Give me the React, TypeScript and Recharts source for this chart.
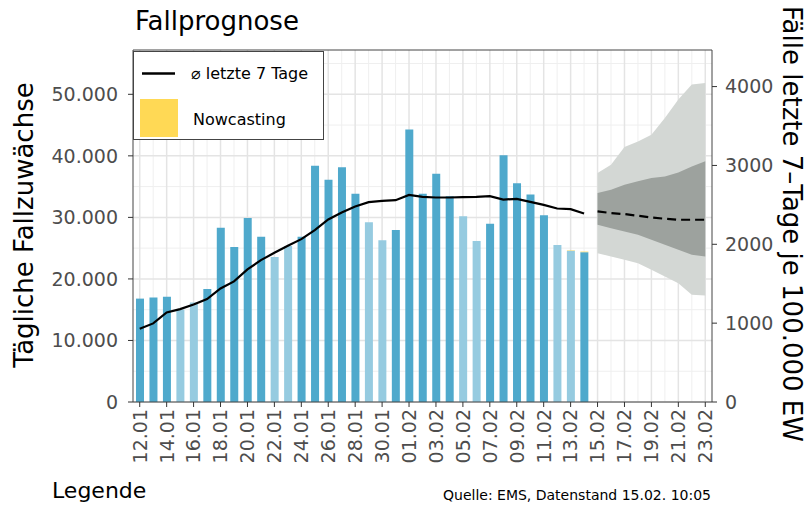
import React from "react";
import {
  ComposedChart,
  Bar,
  Line,
  Area,
  XAxis,
  YAxis,
  CartesianGrid,
  Cell,
  Legend,
  ReferenceLine,
} from "recharts";

// Tage 12.01. bis 23.02.
const dates = [
  "12.01", "13.01", "14.01", "15.01", "16.01", "17.01", "18.01", "19.01", "20.01", "21.01",
  "22.01", "23.01", "24.01", "25.01", "26.01", "27.01", "28.01", "29.01", "30.01", "31.01",
  "01.02", "02.02", "03.02", "04.02", "05.02", "06.02", "07.02", "08.02", "09.02", "10.02",
  "11.02", "12.02", "13.02", "14.02", "15.02", "16.02", "17.02", "18.02", "19.02", "20.02",
  "21.02", "22.02", "23.02",
];

// Wochenende -> hellere Balken
const weekendDays = ["15.01", "16.01", "22.01", "23.01", "29.01", "30.01", "05.02", "06.02", "12.02", "13.02"];

// tägliche Fallzuwächse (12.01. - 14.02.)
const dailyCases = [
  16800, 17000, 17100, 15050, 16150, 18350, 28300, 25200, 29900, 26850,
  23550, 25350, 26850, 38400, 36100, 38150, 33850, 29200, 26300, 27950,
  44300, 33850, 37100, 33450, 30200, 26150, 28950, 40100, 35550, 33700,
  30350, 25500, 24580, 24350,
];

// Nowcasting-Zuschlag (nur die letzten Tage)
const nowcastDays = ["13.02", "14.02"];
const nowcastValues = [70, 90];

// Durchschnitt letzte 7 Tage
const avg7 = [
  11900, 12770, 14560, 15100, 15850, 16720, 18450, 19590, 21540, 23050,
  24240, 25380, 26460, 27920, 29660, 30800, 31770, 32480, 32680, 32790,
  33660, 33330, 33230, 33230, 33280, 33330, 33440, 32900, 33010, 32520,
  32030, 31440, 31330, 30630,
];

// Prognose (Fälle letzte 7 Tage je 100.000 EW), 15.02. - 23.02.
const forecastStart = 34;
const fcMedian = [2417, 2396, 2383, 2362, 2340, 2324, 2311, 2311, 2311];
const fcInnerLo = [2248, 2205, 2163, 2121, 2057, 1994, 1930, 1867, 1845];
const fcInnerHi = [2650, 2692, 2756, 2798, 2840, 2861, 2912, 2988, 3052];
const fcOuterLo = [1888, 1845, 1803, 1761, 1676, 1591, 1507, 1359, 1350];
const fcOuterHi = [2904, 3010, 3234, 3305, 3390, 3602, 3835, 4025, 4047];

const leftTicks = [0, 10000, 20000, 30000, 40000, 50000];
const rightTicks = [0, 1000, 2000, 3000, 4000];
const leftMax = 57200;
const rightMax = 4464;

const data = dates.map((date, i) => {
  const f = i - forecastStart;
  const nIdx = nowcastDays.indexOf(date);
  return {
    date,
    cases: dailyCases[i],
    nowcast: nIdx >= 0 ? nowcastValues[nIdx] : undefined,
    avg: avg7[i],
    median: f >= 0 ? fcMedian[f] : undefined,
    inner: f >= 0 ? [fcInnerLo[f], fcInnerHi[f]] : undefined,
    outer: f >= 0 ? [fcOuterLo[f], fcOuterHi[f]] : undefined,
  };
});

const FONT = "DejaVu Sans";
const DARK_BLUE = "#4FA9CC";
const LIGHT_BLUE = "#96CBE0";
const YELLOW = "#FFD955";

const fmt = (v: number) => v.toLocaleString("de-DE");

const XTick = (props: any) => {
  const { x, y, payload } = props;
  return (
    <text
      transform={`translate(${x},${y}) rotate(-90)`}
      dy="0.36em"
      textAnchor="end"
      fontSize={19}
      fontFamily={FONT}
      fill="#4D4D4D"
    >
      {payload.value}
    </text>
  );
};

const renderLegend = () => (
  <svg width={191} height={89} style={{ display: "block" }}>
    <rect x={0.5} y={0.5} width={190} height={88} fill="#fff" stroke="#444" />
    <line x1={9} x2={42} y1={22.5} y2={22.5} stroke="#000" strokeWidth={2.5} />
    <text x={58} y={28} fontSize={16} fontFamily={FONT} fill="#000">
      ⌀ letzte 7 Tage
    </text>
    <rect x={7} y={48} width={38} height={38} fill={YELLOW} />
    <text x={60} y={74} fontSize={16} fontFamily={FONT} fill="#000">
      Nowcasting
    </text>
  </svg>
);

// gridlines: jede Tagesmitte, alle 5000
const minorX = ({ offset }: any) =>
  dates.map((_, i) => offset.left + ((i + 0.5) * offset.width) / dates.length).filter((_, i) => i % 2 === 1);
const majorX = ({ offset }: any) =>
  dates.map((_, i) => offset.left + ((i + 0.5) * offset.width) / dates.length).filter((_, i) => i % 2 === 0);
const minorY = ({ offset }: any) =>
  [5000, 15000, 25000, 35000, 45000, 55000].map((v) => offset.top + offset.height * (1 - v / leftMax));
const majorY = ({ offset }: any) =>
  leftTicks.map((v) => offset.top + offset.height * (1 - v / leftMax));

export default function App() {
  return (
    <div style={{ position: "absolute", left: 0, top: 0, width: 807, height: 508, background: "#fff" }}>
      <ComposedChart
        width={807}
        height={508}
        data={data}
        margin={{ top: 50, right: 0, bottom: 0, left: 0 }}
        barSize={8}
      >
        <CartesianGrid
          horizontalCoordinatesGenerator={minorY}
          verticalCoordinatesGenerator={minorX}
          stroke="#EFEFEF"
          strokeWidth={1}
        />
        <CartesianGrid
          horizontalCoordinatesGenerator={majorY}
          verticalCoordinatesGenerator={majorX}
          stroke="#E4E4E4"
          strokeWidth={1.5}
        />
        <XAxis
          dataKey="date"
          interval={1}
          height={106}
          tick={<XTick />}
          tickSize={5}
          tickMargin={2}
          axisLine={{ stroke: "#444" }}
          tickLine={{ stroke: "#333" }}
        />
        <YAxis
          yAxisId="left"
          orientation="left"
          width={133}
          domain={[0, leftMax]}
          ticks={leftTicks}
          tickFormatter={fmt}
          tickSize={5}
          tickMargin={10}
          axisLine={{ stroke: "#444" }}
          tickLine={{ stroke: "#333" }}
          tick={{ fontSize: 19, fontFamily: FONT, fill: "#4D4D4D" }}
        />
        <YAxis
          yAxisId="right"
          orientation="right"
          width={95}
          domain={[0, rightMax]}
          ticks={rightTicks}
          tickSize={5}
          tickMargin={8}
          axisLine={{ stroke: "#444" }}
          tickLine={{ stroke: "#333" }}
          tick={{ fontSize: 19, fontFamily: FONT, fill: "#4D4D4D" }}
        />
        <ReferenceLine yAxisId="left" y={leftMax} stroke="#444" />
        <Area
          yAxisId="right"
          dataKey="outer"
          type="linear"
          stroke="none"
          fill="#D3D7D4"
          fillOpacity={1}
          isAnimationActive={false}
        />
        <Area
          yAxisId="right"
          dataKey="inner"
          type="linear"
          stroke="none"
          fill="#9DA29E"
          fillOpacity={1}
          isAnimationActive={false}
        />
        <Bar yAxisId="left" dataKey="cases" stackId="a" isAnimationActive={false}>
          {data.map((d) => (
            <Cell key={d.date} fill={weekendDays.includes(d.date) ? LIGHT_BLUE : DARK_BLUE} />
          ))}
        </Bar>
        <Bar yAxisId="left" dataKey="nowcast" stackId="a" fill={YELLOW} isAnimationActive={false} />
        <Line
          yAxisId="left"
          dataKey="avg"
          type="linear"
          stroke="#000"
          strokeWidth={2.2}
          dot={false}
          isAnimationActive={false}
        />
        <Line
          yAxisId="right"
          dataKey="median"
          type="linear"
          stroke="#000"
          strokeWidth={2.2}
          strokeDasharray="9 5"
          dot={false}
          isAnimationActive={false}
        />
        <Legend
          layout="horizontal"
          align="center"
          verticalAlign="middle"
          content={renderLegend}
          wrapperStyle={{ left: 133, top: 51, width: 191, height: 89 }}
        />
      </ComposedChart>
      <svg
        width={807}
        height={508}
        style={{ position: "absolute", left: 0, top: 0, pointerEvents: "none" }}
        fontFamily={FONT}
      >
        <text x={135} y={30} fontSize={26} fill="#000">
          Fallprognose
        </text>
        <text transform="translate(33,225) rotate(-90)" textAnchor="middle" fontSize={26} fill="#000">
          Tägliche Fallzuwächse
        </text>
        <text transform="translate(783,224) rotate(90)" textAnchor="middle" fontSize={26} fill="#000">
          Fälle letzte 7–Tage je 100.000 EW
        </text>
        <text x={52} y={498} fontSize={22} fill="#000">
          Legende
        </text>
        <text x={711} y={500} textAnchor="end" fontSize={14} fill="#000">
          Quelle: EMS, Datenstand 15.02. 10:05
        </text>
      </svg>
    </div>
  );
}
